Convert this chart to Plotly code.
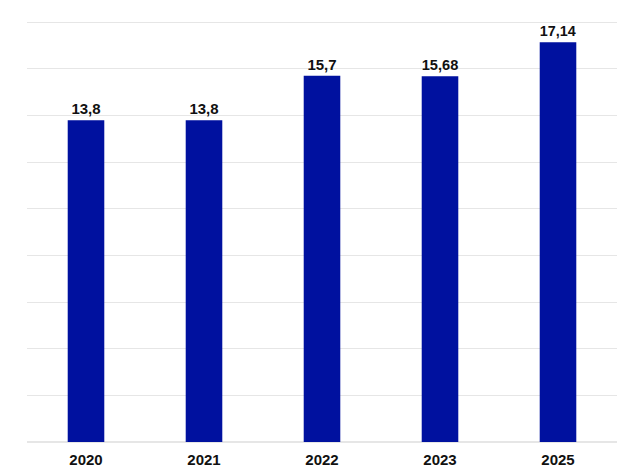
import plotly.graph_objects as go

years = ["2020", "2021", "2022", "2023", "2025"]
values = [13.8, 13.8, 15.7, 15.68, 17.14]
labels = [str(v).replace(".", ",") for v in values]

fig = go.Figure(go.Bar(
    x=years, y=values, text=labels, textposition="outside", cliponaxis=False,
    marker=dict(color="#00119F", line=dict(width=0)),
    textfont=dict(family="Liberation Sans", size=15, color="#111111", weight="bold"),
))
fig.update_layout(
    width=640, height=475,
    margin=dict(l=19, r=31, t=13, b=41, autoexpand=False),
    paper_bgcolor="white", plot_bgcolor="white",
    bargap=0.69, showlegend=False,
    xaxis=dict(type="category", showgrid=False, showline=False, ticks="", automargin=False,
               ticklabelstandoff=7,
               tickfont=dict(family="Liberation Sans", size=15, color="#111111", weight="bold")),
    yaxis=dict(range=[0, 18.05], tickvals=[0, 2, 4, 6, 8, 10, 12, 14, 16, 18],
               showticklabels=False, automargin=False, gridcolor="#E6E6E6",
               gridwidth=1, zeroline=True, zerolinecolor="#E6E6E6", showline=False),
)
fig.write_html("out.html")
